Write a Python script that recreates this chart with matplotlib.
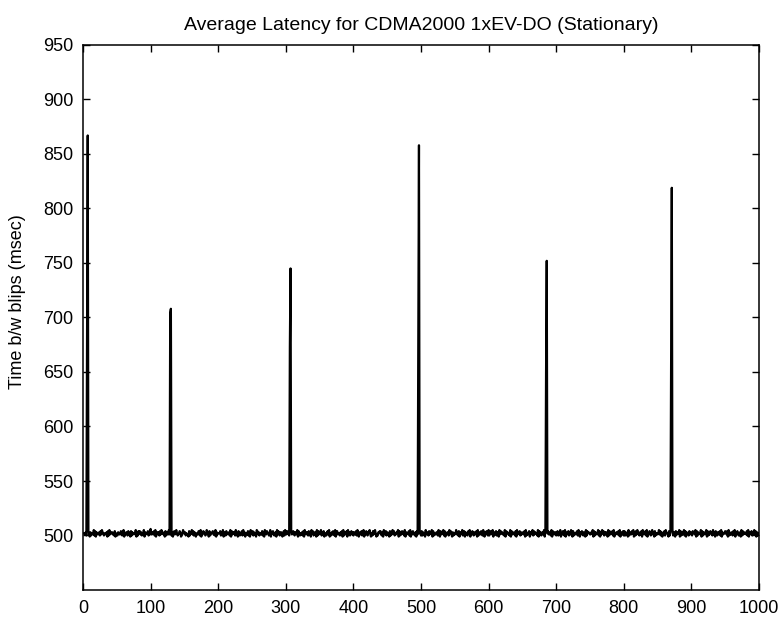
import numpy as np
import matplotlib
matplotlib.use("Agg")
import matplotlib.pyplot as plt

# noise around ~503 msec, one digit per sample (value = 497 + digit)
noise_digits = """
5546365742 6355483726 5456374865 3545627384 5664537254
3654476358 2546637452 7364554826 3757463548 2645573649
4465738256 4637485546 2735648457 3625746853 4576234865
6354427365 8473652544 7638254765 3486527345 6745382645
5573648265 3745563827 4656384527 6345738462 5547362854
7364528746 3554736285 4765348265 7435628475 3665247385
4756382645 7536648275 3546372854 6637452857 3465283746
5836472553 6748253647 5382674553 6472836457 2846357463
6547385264 4735826475 3668425374 6852436577 4362854736
4527364857 3546682735 4756382645 5738264754 3627485563
7365428456 3746582735 4466385274 6583725466 3857426354
5846372645 8357264437 5826475365 4728365476 3852647538
3675482654 7365284756 4538276645 3827465537 2846573645
6472835467 2654837465 5382746356 4827365745 6382754663
5736482547 6382564735 4862735546 7385264753 6428375654
4658273645 5837264857 3646528374 6573825466 4738256473
7364528365 4758263748 5536472854 6738254763 5846273554
5847362547 3865427365 4836527446 5827364583 7265437465
3765482736 5548273654 6827354765 3846275364 5738264557
6472835465 3748265743 5628374655 4738265473 6584726355
"""
noise_digits = "".join(noise_digits.split())

# spike samples: index -> latency (msec)
spike_idx = [6, 7, 129, 130, 306, 307, 496, 497, 685, 686, 870, 871]
spike_val = [680, 867, 704, 708, 673, 745, 680, 858, 650, 752, 667, 819]

x = np.arange(1, len(noise_digits) + 1)
y = np.array([497 + int(d) for d in noise_digits], dtype=float)
for i, v in zip(spike_idx, spike_val):
    y[i - 1] = v

plt.rcParams['font.family'] = ['Liberation Sans', 'DejaVu Sans']

fig = plt.figure(figsize=(7.84, 6.23), dpi=100)
ax = fig.add_axes([83/784, 1 - 590/623, 676/784, 545/623])
ax.plot(x, y, color='black', linewidth=1.6)

ax.set_xlim(0, 1000)
ax.set_ylim(450, 950)
ax.set_xticks(np.arange(0, 1001, 100))
ax.set_yticks(np.arange(500, 951, 50))
ax.tick_params(direction='in', length=5, width=1.0, labelsize=13,
               top=True, right=True, pad=7)
for s in ax.spines.values():
    s.set_linewidth(1.1)

ax.set_title("Average Latency for CDMA2000 1xEV-DO (Stationary)", fontsize=14, pad=11)
ax.set_ylabel("Time b/w blips (msec)", fontsize=13)
ax.yaxis.set_label_coords(-0.085, 0.53)

fig.savefig("out.png", dpi=100)
